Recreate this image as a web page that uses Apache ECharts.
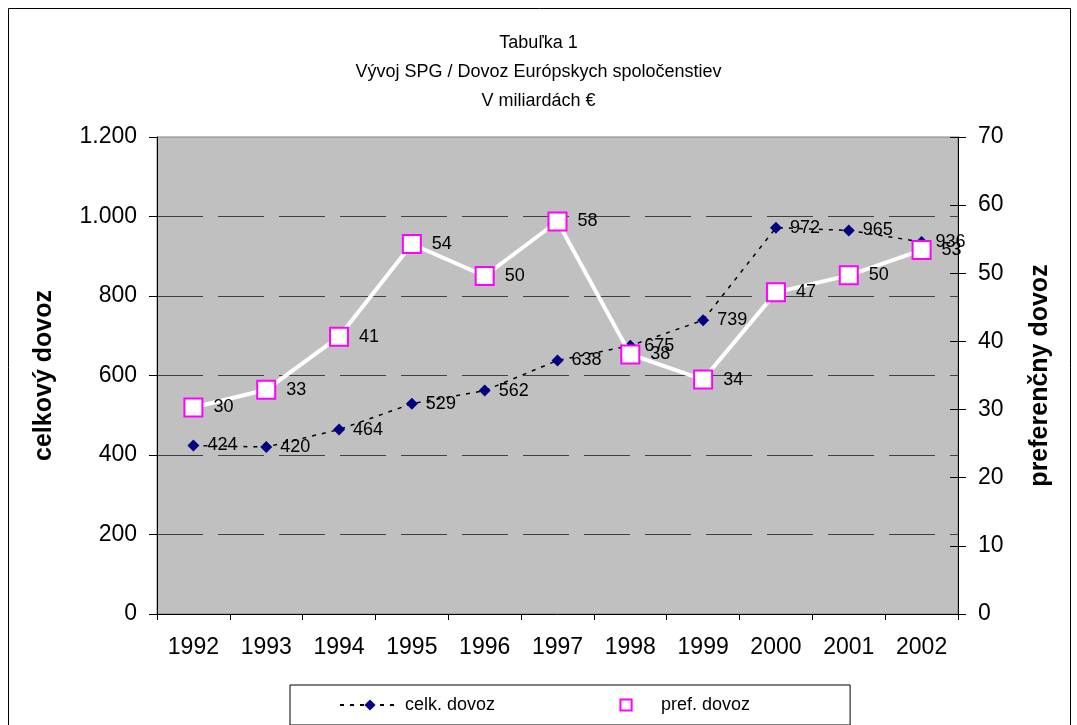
<!DOCTYPE html>
<html>
<head>
<meta charset="utf-8">
<script src="https://cdn.jsdelivr.net/npm/echarts@6/dist/echarts.min.js"></script>
<style>html,body{margin:0;padding:0;background:#fff}#c{width:1077px;height:725px}</style>
</head>
<body>
<div id="c"></div>
<script>
var years = ['1992','1993','1994','1995','1996','1997','1998','1999','2000','2001','2002'];
var celkDovoz = [424, 420, 464, 529, 562, 638, 675, 739, 972, 965, 936];
var prefDovoz = [30.3, 32.9, 40.7, 54.3, 49.6, 57.6, 38.1, 34.4, 47.2, 49.7, 53.4];
var titleLines = ['Tabuľka 1', 'Vývoj SPG / Dovoz Európskych spoločenstiev', 'V miliardách €'];

var FONT = '"Liberation Sans", Arial, sans-serif';
var chart = echarts.init(document.getElementById('c'));
function thousands(v){ return String(v).replace(/\B(?=(\d{3})+(?!\d))/g, '.'); }

chart.setOption({
  backgroundColor: '#ffffff',
  animation: false,
  textStyle: { fontFamily: FONT },
  title: {
    text: titleLines.join('\n'),
    left: 'center',
    top: 24,
    textStyle: { fontFamily: FONT, fontSize: 18, fontWeight: 'normal', color: '#000', lineHeight: 29 }
  },
  graphic: [{
    type: 'rect',
    shape: { x: 8.5, y: 8.5, width: 1062, height: 740 },
    style: { fill: 'none', stroke: '#000', lineWidth: 1 },
    z: -1
  }],
  legend: {
    data: ['celk. dovoz', 'pref. dovoz'],
    left: 290,
    top: 685,
    padding: [11, 100, 11, 49],
    borderColor: '#000',
    borderWidth: 1,
    itemWidth: 60,
    itemHeight: 14,
    itemGap: 100,
    textStyle: { fontFamily: FONT, fontSize: 18, color: '#000' }
  },
  grid: {
    left: 157, right: 119, top: 137, bottom: 111,
    show: true, backgroundColor: '#c0c0c0', borderColor: '#808080', borderWidth: 1
  },
  xAxis: {
    type: 'category',
    data: years,
    boundaryGap: true,
    axisLine: { lineStyle: { color: '#000', width: 1 } },
    axisTick: { show: true, length: 6, lineStyle: { color: '#000' } },
    axisLabel: { fontFamily: FONT, fontSize: 23, color: '#000', margin: 22 }
  },
  yAxis: [{
    type: 'value',
    min: 0, max: 1200, interval: 200,
    position: 'left',
    name: 'celkový dovoz',
    nameLocation: 'middle',
    nameGap: 100,
    nameRotate: 90,
    nameTextStyle: { fontFamily: FONT, fontSize: 25, fontWeight: 'bold', color: '#000' },
    axisLine: { show: true, lineStyle: { color: '#000', width: 1 } },
    axisTick: { show: true, length: 8, lineStyle: { color: '#000' } },
    axisLabel: { fontFamily: FONT, fontSize: 23, color: '#000', margin: 20, formatter: thousands },
    splitLine: { show: true, showMinLine: false, showMaxLine: false, lineStyle: { color: '#404040', width: 1, type: [46, 15] } }
  }, {
    type: 'value',
    min: 0, max: 70, interval: 10,
    position: 'right',
    name: 'preferenčny dovoz',
    nameLocation: 'middle',
    nameGap: 70,
    nameRotate: 90,
    nameTextStyle: { fontFamily: FONT, fontSize: 25, fontWeight: 'bold', color: '#000' },
    axisLine: { show: true, lineStyle: { color: '#000', width: 1 } },
    axisTick: { show: true, length: 8, lineStyle: { color: '#000' } },
    axisLabel: { fontFamily: FONT, fontSize: 23, color: '#000', margin: 20 },
    splitLine: { show: false }
  }, {
    type: 'value',
    min: 0, max: 70, interval: 10,
    position: 'right',
    axisLine: { show: false },
    axisTick: { show: true, inside: true, length: 8, lineStyle: { color: '#000' } },
    axisLabel: { show: false },
    splitLine: { show: false }
  }],
  series: [{
    name: 'celk. dovoz',
    type: 'line',
    yAxisIndex: 0,
    data: celkDovoz,
    symbol: 'diamond',
    symbolSize: 12,
    itemStyle: { color: '#000080' },
    lineStyle: { color: '#000', width: 1.5, type: [4, 6] },
    label: { show: true, position: 'right', distance: 8, fontFamily: FONT, fontSize: 18, color: '#000' },
    z: 2
  }, {
    name: 'pref. dovoz',
    type: 'line',
    yAxisIndex: 1,
    data: prefDovoz,
    symbol: 'rect',
    symbolSize: 18,
    itemStyle: { color: '#ffffff', borderColor: '#ff00ff', borderWidth: 2 },
    lineStyle: { color: '#ffffff', width: 4 },
    label: { show: true, position: 'right', distance: 10, fontFamily: FONT, fontSize: 18, color: '#000',
      formatter: function(p){ return Math.round(p.value); } },
    z: 3
  }]
});
</script>
</body>
</html>
